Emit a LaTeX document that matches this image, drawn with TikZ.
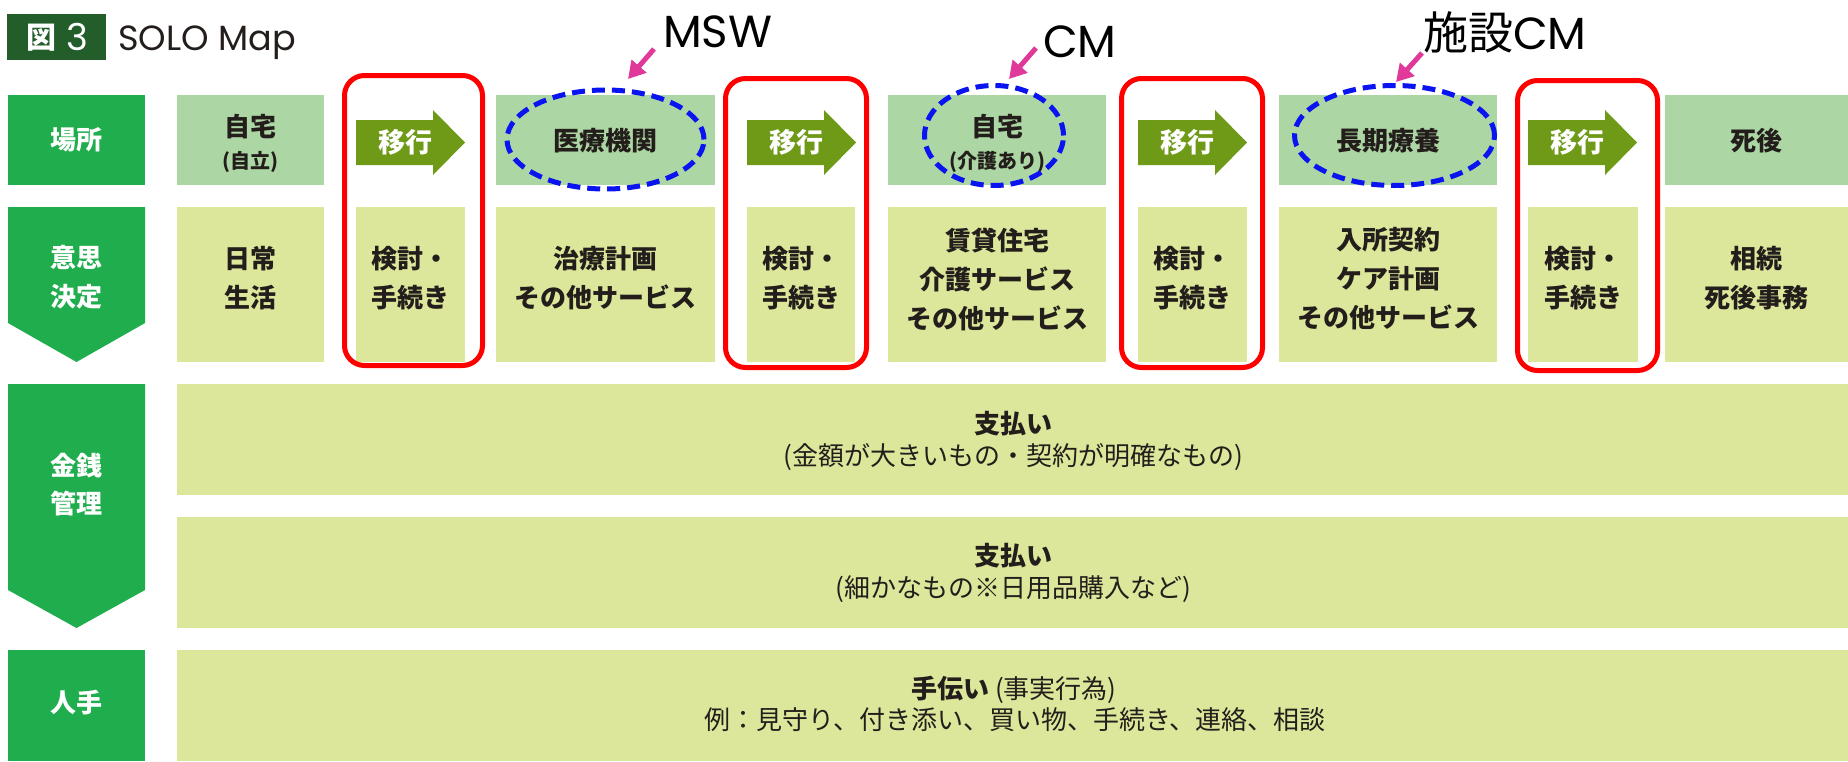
\documentclass[tikz,border=0pt]{standalone}
\usepackage{fontspec}
\setmainfont{Noto Sans CJK JP}
\newfontfamily\latin{Poppins}
\usetikzlibrary{shapes.geometric,arrows.meta}
\definecolor{hdr}{HTML}{1FAD4D}
\definecolor{ttl}{HTML}{235E2A}
\definecolor{placebg}{HTML}{ACD6A3}
\definecolor{cellbg}{HTML}{DDE79B}
\definecolor{moveg}{HTML}{6E9A18}
\definecolor{ink}{HTML}{231E1B}
\definecolor{redline}{HTML}{FF0000}
\definecolor{blueline}{HTML}{0A14F0}
\definecolor{pinkline}{HTML}{E0399A}
\begin{document}
\begin{tikzpicture}[x=1pt,y=-1pt,
  hdrbox/.style={rectangle, fill=hdr, inner sep=0pt, minimum width=137pt},
  placebox/.style={rectangle, fill=placebg, inner sep=0pt, minimum height=90pt},
  cellbox/.style={rectangle, fill=cellbg, inner sep=0pt, minimum height=155pt},
  widebox/.style={rectangle, fill=cellbg, inner sep=0pt, minimum width=1671pt, minimum height=111pt},
  txt/.style={font=\bfseries\fontsize{26}{39}\selectfont, text=ink, align=center, inner sep=0pt},
  smalltxt/.style={font=\bfseries\fontsize{20}{24}\selectfont, text=ink, align=center, inner sep=0pt},
  regtxt/.style={font=\fontsize{26}{30}\selectfont, text=ink, align=center, inner sep=0pt},
  hdrtxt/.style={font=\bfseries\fontsize{26}{39}\selectfont, text=white, align=center, inner sep=0pt},
  movetxt/.style={font=\bfseries\fontsize{27}{30}\selectfont, text=white, inner sep=0pt},
  redbox/.style={draw=redline, line width=5pt, rounded corners=20pt},
  dashell/.style={ellipse, draw=blueline, line width=5pt, dash pattern=on 13pt off 7pt, inner sep=0pt},
  pinkarr/.style={draw=pinkline, line width=5pt, -{Triangle[length=17pt,width=19pt]}},
  note/.style={font=\latin\fontsize{45}{50}\selectfont, text=black, inner sep=0pt, anchor=base west}
]
\useasboundingbox (0,0) rectangle (1848,761);
\fill[white] (0,0) rectangle (1848,761);

% title
\node[rectangle, fill=ttl, inner sep=0pt, minimum width=99pt, minimum height=46pt] (ttlbox) at (56.5,37) {};
\node[font=\bfseries\fontsize{30}{30}\selectfont, text=white, inner sep=0pt] (zu) at (41.5,38) {図};
\node[font=\latin\fontsize{37}{37}\selectfont, text=white, inner sep=0pt, anchor=base] (zunum) at (77,50) {3};
\node[font=\latin\fontsize{35}{35}\selectfont, text=ink, inner sep=0pt, anchor=base west] (solo) at (118,50) {SOLO Map};

% left headers
\node[hdrbox, minimum height=90pt] (h1) at (76.5,140) {};
\node[hdrtxt] (h1t) at (76.5,140) {場所};
\fill[hdr] (8,207) -- (145,207) -- (145,323) -- (76.5,362) -- (8,323) -- cycle;
\node[hdrtxt] (h2t) at (76.5,277) {意思\\決定};
\fill[hdr] (8,384) -- (145,384) -- (145,590) -- (76.5,628) -- (8,590) -- cycle;
\node[hdrtxt, font=\bfseries\fontsize{26}{38}\selectfont] (h3t) at (76.5,485) {金銭\\管理};
\node[hdrbox, minimum height=111pt] (h4) at (76.5,705.5) {};
\node[hdrtxt] (h4t) at (76.5,703) {人手};

% row 1: places
\node[placebox, minimum width=147pt] (p1) at (250.5,140) {};
\node[txt] (p1a) at (250.5,127) {自宅};
\node[smalltxt] (p1b) at (250.5,162) {(自立)};
\node[placebox, minimum width=219pt] (p3) at (605.5,140) {};
\node[txt] (p3t) at (605.5,141) {医療機関};
\node[placebox, minimum width=218pt] (p5) at (997,140) {};
\node[txt] (p5a) at (997,127) {自宅};
\node[smalltxt] (p5b) at (997,162) {(介護あり)};
\node[placebox, minimum width=218pt] (p7) at (1388,140) {};
\node[txt] (p7t) at (1388,141) {長期療養};
\node[placebox, minimum width=183pt] (p9) at (1756.5,140) {};
\node[txt] (p9t) at (1756.5,141) {死後};

% move arrows
\foreach \x/\n in {356/1,747/2,1138/3,1528/4}{
  \fill[moveg] (\x,120) -- ++(77,0) -- ++(0,-10) -- ++(32,32.5) -- ++(-32,32.5) -- ++(0,-10) -- ++(-77,0) -- cycle;
  \node[movetxt] (mv\n) at (\x+49,142) {移行};
}

% row 2: decisions
\node[cellbox, minimum width=147pt] (d1) at (250.5,284.5) {};
\node[txt] (d1t) at (250.5,278) {日常\\生活};
\node[cellbox, minimum width=109pt] (d2) at (410.5,284.5) {};
\node[txt] (d2t) at (410.5,278) {検討・\\手続き};
\node[cellbox, minimum width=219pt] (d3) at (605.5,284.5) {};
\node[txt] (d3t) at (605.5,278) {治療計画\\その他サービス};
\node[cellbox, minimum width=108pt] (d4) at (801,284.5) {};
\node[txt] (d4t) at (801,278) {検討・\\手続き};
\node[cellbox, minimum width=218pt] (d5) at (997,284.5) {};
\node[txt] (d5t) at (997,279) {賃貸住宅\\介護サービス\\その他サービス};
\node[cellbox, minimum width=109pt] (d6) at (1192.5,284.5) {};
\node[txt] (d6t) at (1192.5,278) {検討・\\手続き};
\node[cellbox, minimum width=218pt] (d7) at (1388,284.5) {};
\node[txt] (d7t) at (1388,279) {入所契約\\ケア計画\\その他サービス};
\node[cellbox, minimum width=110pt] (d8) at (1583,284.5) {};
\node[txt] (d8t) at (1583,278) {検討・\\手続き};
\node[cellbox, minimum width=183pt] (d9) at (1756.5,284.5) {};
\node[txt] (d9t) at (1756.5,278) {相続\\死後事務};

% money rows
\node[widebox] (m1) at (1012.5,439.5) {};
\node[txt] (m1a) at (1013,424) {支払い};
\node[regtxt] (m1b) at (1013,457) {(金額が大きいもの・契約が明確なもの)};
\node[widebox] (m2) at (1012.5,572.5) {};
\node[txt] (m2a) at (1013,556) {支払い};
\node[regtxt] (m2b) at (1013,589) {(細かなもの※日用品購入など)};
% help row
\node[widebox] (w1) at (1012.5,705.5) {};
\node[regtxt] (w1a) at (1014,690) {{\bfseries 手伝い} (事実行為)};
\node[regtxt] (w1b) at (1015,720) {例：見守り、付き添い、買い物、手続き、連絡、相談};

% red frames
\draw[redbox] (344.5,75.5) rectangle (482.5,365.5);
\draw[redbox] (725.5,78.5) rectangle (866.5,367.5);
\draw[redbox] (1121.5,78.5) rectangle (1262.5,367.5);
\draw[redbox] (1517.5,80.5) rectangle (1657.5,370.5);

% dashed ellipses
\node[dashell, minimum width=197pt, minimum height=99pt] (e1) at (605.5,139.5) {};
\node[dashell, minimum width=139pt, minimum height=100pt] (e2) at (994,135.5) {};
\node[dashell, minimum width=200pt, minimum height=100pt] (e3) at (1394.5,135.5) {};

% notes
\node[note] (msw) at (663,47) {MSW};
\node[note] (cm) at (1043,57) {CM};
\node[note] (scm) at (1423,49) {{\rmfamily 施設}CM};
\coordinate (mswtail) at (654,49);
\coordinate (mswtip) at (628,79);
\coordinate (cmtail) at (1036,48);
\coordinate (cmtip) at (1009,79);
\coordinate (scmtail) at (1422,53);
\coordinate (scmtip) at (1396,82);
\draw[pinkarr] (mswtail) -- (mswtip);
\draw[pinkarr] (cmtail) -- (cmtip);
\draw[pinkarr] (scmtail) -- (scmtip);
\end{tikzpicture}
\end{document}
